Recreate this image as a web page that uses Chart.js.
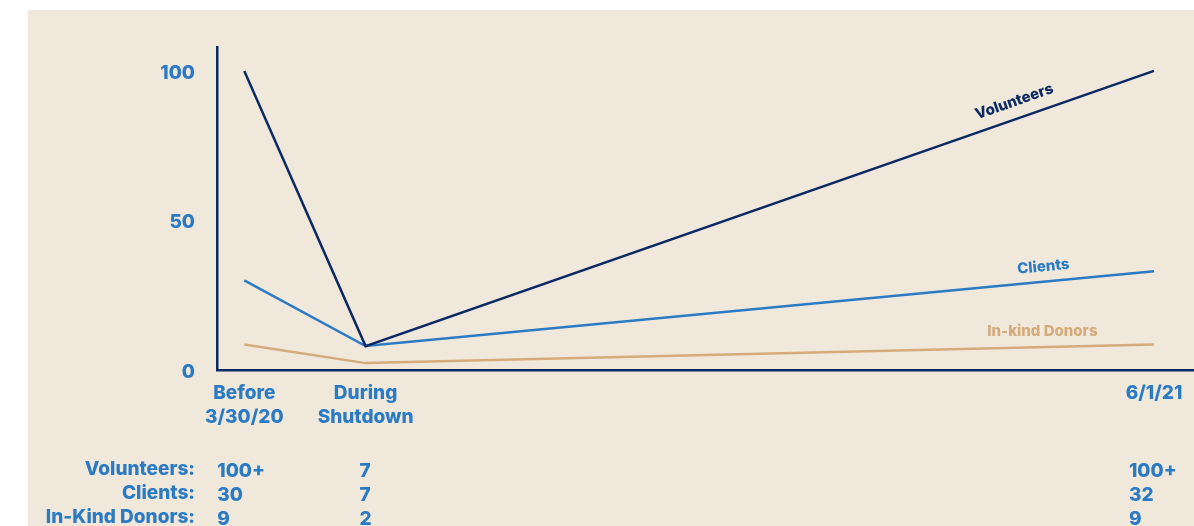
<!DOCTYPE html>
<html>
<head>
<meta charset="utf-8">
<script src="https://cdn.jsdelivr.net/npm/chart.js@4"></script>
<style>
  html, body { margin: 0; padding: 0; background: #ffffff; }
  #bg { position: absolute; left: 28px; top: 10px; right: 0; bottom: 0; background: #f1e8dc; }
  #wrap { position: absolute; left: 0; top: 0; width: 1194px; height: 526px; }
</style>
</head>
<body>
<div id="bg"></div>
<div id="wrap"><canvas id="lineChart"></canvas></div>
<script>
// periods (months after March 2020) and their labels
const periods = [0, 2, 15];
const periodLabels = [['Before', '3/30/20'], ['During', 'Shutdown'], ['6/1/21']];

// series values
const volunteers = [100, 8, 100];
const clients = [30, 8, 33];
const inkindDonors = [8.5, 2.3, 8.5];

// summary table under the axis
const rowLabels = ['Volunteers:', 'Clients:', 'In-Kind Donors:'];
const volunteerCounts = ['100+', '7', '100+'];
const clientCounts = ['30', '7', '32'];
const donorCounts = ['9', '2', '9'];

const yTicks = [0, 50, 100];

const NAVY = '#0b2a63';
const BLUE = '#2a7bc4';
const TAN = '#d4ab7a';
const FONT = 'Inter, sans-serif';

const toPoints = (vals) => vals.map((v, i) => ({ x: periods[i], y: v }));

// line name labels, written along the last segment
const lineLabels = {
    id: 'lineLabels',
    afterDatasetsDraw(chart) {
        const { ctx, scales: { x, y } } = chart;
        const spots = [
            { ds: 0, at: 12.79, up: 17, text: 'Volunteers', color: NAVY, rotate: true },
            { ds: 1, at: 13.2, up: 15, text: 'Clients', color: BLUE, rotate: true },
            { ds: 2, at: 13.16, up: 16, text: 'In-kind Donors', color: TAN, rotate: false }
        ];
        spots.forEach(s => {
            const data = chart.data.datasets[s.ds].data;
            const a = data[1], b = data[2];
            const x1 = x.getPixelForValue(a.x), y1 = y.getPixelForValue(a.y);
            const x2 = x.getPixelForValue(b.x), y2 = y.getPixelForValue(b.y);
            const px = x.getPixelForValue(s.at);
            const py = y1 + (y2 - y1) * (px - x1) / (x2 - x1);
            const ang = Math.atan2(y2 - y1, x2 - x1);
            ctx.save();
            ctx.translate(px, py);
            if (s.rotate) ctx.rotate(ang);
            ctx.font = `800 15px ${FONT}`;
            ctx.fillStyle = s.color;
            ctx.textAlign = 'center';
            ctx.textBaseline = 'middle';
            ctx.fillText(s.text, 0, -s.up);
            ctx.restore();
        });
    }
};

// counts table under the x axis
const countTable = {
    id: 'countTable',
    afterDraw(chart) {
        const { ctx, scales: { x } } = chart;
        const rows = [volunteerCounts, clientCounts, donorCounts];
        const rowY = [469, 493, 517];
        const colShift = [-27, -6, -25];
        ctx.save();
        ctx.font = `800 19px ${FONT}`;
        ctx.fillStyle = BLUE;
        ctx.textBaseline = 'middle';
        rows.forEach((row, r) => {
            ctx.textAlign = 'right';
            ctx.fillText(rowLabels[r], 195, rowY[r]);
            ctx.textAlign = 'left';
            row.forEach((txt, c) => {
                ctx.fillText(txt, x.getPixelForValue(periods[c]) + colShift[c], rowY[r] + 2);
            });
        });
        ctx.restore();
    }
};

const lineDs = (label, vals, color) => ({
    label,
    data: toPoints(vals),
    borderColor: color,
    borderWidth: 2.5,
    pointRadius: 0,
    tension: 0,
    fill: false
});

new Chart(document.getElementById('lineChart'), {
    type: 'line',
    data: {
        datasets: [
            lineDs('Volunteers', volunteers, NAVY),
            lineDs('Clients', clients, BLUE),
            lineDs('In-kind Donors', inkindDonors, TAN)
        ]
    },
    options: {
        responsive: true,
        maintainAspectRatio: false,
        animation: false,
        layout: { padding: { top: 47, right: 0, left: 0, bottom: 0 } },
        plugins: { legend: { display: false }, tooltip: { enabled: false } },
        scales: {
            x: {
                type: 'linear',
                min: -0.45,
                max: 15.66,
                afterBuildTicks: (s) => { s.ticks = periods.map(v => ({ value: v })); },
                afterFit: (s) => { s.height = 156; },
                grid: { display: false, drawTicks: false },
                border: { color: NAVY, width: 2.5 },
                ticks: {
                    padding: 11,
                    color: BLUE,
                    font: { family: FONT, weight: '800', size: 19, lineHeight: 1.27 },
                    maxRotation: 0,
                    autoSkip: false,
                    callback: (v) => {
                        const i = periods.indexOf(v);
                        return i >= 0 ? periodLabels[i] : '';
                    }
                }
            },
            y: {
                min: 0,
                max: 108,
                afterBuildTicks: (s) => { s.ticks = yTicks.map(v => ({ value: v })); },
                afterFit: (s) => { s.width = 217; },
                grid: { display: false, drawTicks: false },
                border: { color: NAVY, width: 2.5 },
                ticks: {
                    padding: 22,
                    labelOffset: 2,
                    color: BLUE,
                    font: { family: FONT, weight: '800', size: 19 }
                }
            }
        }
    },
    plugins: [lineLabels, countTable]
});
</script>
</body>
</html>
